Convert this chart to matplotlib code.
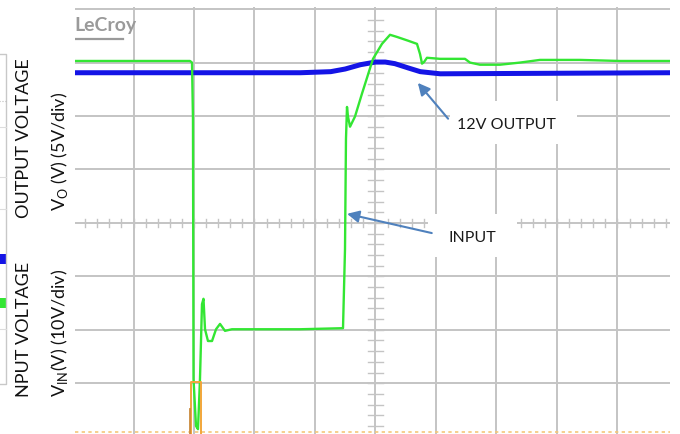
"""Scope capture: 12V output response to an input dropout (LeCroy screen)."""

import matplotlib
matplotlib.use("Agg")
import matplotlib.pyplot as plt
import numpy as np
from matplotlib.patches import Rectangle

plt.rcParams['font.family'] = ['Lato', 'DejaVu Sans']
plt.rcParams['mathtext.fontset'] = 'custom'
plt.rcParams['mathtext.rm'] = 'Lato'

# traces in screen divisions (x: 0..10 time div, y: -4..4 div, 0 = centre)
input_x = [0.03, 1.934, 1.967, 1.983, 1.992, 2.033, 2.066, 2.099, 2.132, 2.157,
           2.182, 2.231, 2.298, 2.364, 2.430, 2.512, 2.628, 3.091, 3.752, 4.463,
           4.496, 4.512, 4.529, 4.545, 4.579, 4.661, 4.777, 4.959, 5.107, 5.240,
           5.355, 5.537, 5.686, 5.736, 5.769, 5.802, 5.851, 6.066, 6.479, 6.562,
           6.727, 7.058, 7.388, 7.719, 8.380, 9.041, 9.87]
input_y = [3.03, 3.03, 3.00, 1.95, -2.92, -3.80, -3.86, -2.92, -1.52, -1.42,
           -1.99, -2.21, -2.21, -1.99, -1.89, -2.02, -1.99, -1.99, -1.99, -1.97,
           -0.49, 1.57, 2.17, 1.99, 1.80, 1.99, 2.42, 3.07, 3.35, 3.52,
           3.48, 3.41, 3.35, 3.16, 2.98, 3.01, 3.09, 3.07, 3.07, 3.00,
           2.96, 2.96, 3.00, 3.05, 3.05, 3.03, 3.03]

output_x = [0.03, 3.76, 4.26, 4.50, 4.75, 5.00, 5.16, 5.32, 5.54, 5.74, 6.07, 9.87]
output_y = [2.81, 2.81, 2.83, 2.88, 2.96, 3.01, 3.01, 2.98, 2.90, 2.83, 2.79, 2.81]

trig_x = [1.950, 1.950, 2.116, 2.116]
trig_y = [-3.96, -2.98, -2.98, -3.96]

GRID = '#c4c4c4'

fig = plt.figure(figsize=(6.8, 4.35), dpi=100)
ax = fig.add_axes([75 / 680, 0.0, 595 / 680, 427 / 435])
ax.set_xlim(0.033, 9.868)
ax.set_ylim(-3.95, 4.04)
ax.axis('off')

# graticule
for gx in range(1, 10):
    ax.axvline(gx, color=GRID, lw=1.4, zorder=1)
for gy in range(-3, 5):
    ax.axhline(gy, color=GRID, lw=1.4, zorder=1)
for t in np.arange(0.2, 10, 0.2):
    ax.plot([t, t], [-0.075, 0.075], color=GRID, lw=1.0, zorder=1)
for t in np.arange(-3.8, 4, 0.2):
    ax.plot([4.88, 5.12], [t, t], color=GRID, lw=1.0, zorder=1)

# ground marker along the bottom
ax.axhline(-3.91, color='#f5c77a', lw=1.2, ls=(0, (2, 2)), zorder=1)

# white label boxes cover the grid
ax.add_patch(Rectangle((6.23, 1.48), 2.10, 0.80, fc='white', ec='none', zorder=2))
ax.add_patch(Rectangle((5.87, -0.64), 1.47, 0.81, fc='white', ec='none', zorder=2))

ax.plot(output_x, output_y, color='#1414e6', lw=3.6, zorder=4,
        solid_capstyle='butt')
ax.plot(input_x, input_y, color='#33e633', lw=1.7, zorder=5)
ax.plot(trig_x, trig_y, color='#f2a63a', lw=1.4, zorder=6)
ax.plot([1.935, 1.935], [-3.96, -3.48], color='#c98a3c', lw=1.3, zorder=6)

arrow = dict(arrowstyle='-|>', color='#4f81bd', lw=1.5, mutation_scale=18,
             shrinkA=0, shrinkB=0)
ax.annotate('', xy=(5.70, 2.62), xytext=(6.20, 1.95), arrowprops=arrow, zorder=6)
ax.annotate('', xy=(4.53, 0.17), xytext=(5.93, -0.19), arrowprops=arrow, zorder=6)
ax.text(7.17, 1.85, '12V OUTPUT', fontsize=11.5, ha='center', va='center',
        color='#1a1a1a', zorder=6)
ax.text(6.60, -0.26, 'INPUT', fontsize=11.5, ha='center', va='center',
        color='#1a1a1a', zorder=6)

# LeCroy logo
ax.text(0.02, 3.72, 'LeCroy', fontsize=14, fontweight='bold', color='#9a9a9a',
        ha='left', va='center', zorder=6)
ax.plot([0.03, 0.82], [3.45, 3.45], color='#9a9a9a', lw=1.6, zorder=6)

# overlay in pixel units for the side labels and the cut-off legend box
ov = fig.add_axes([0, 0, 1, 1])
ov.set_xlim(0, 680)
ov.set_ylim(435, 0)
ov.axis('off')
ov.patch.set_alpha(0)
ov.plot([-5, 6, 6, -5], [55, 55, 385, 385], color='#c8c8c8', lw=1.0)
for yy in (128, 178, 210, 330):
    ov.plot([-5, 6], [yy, yy], color='#dddddd', lw=0.8)
ov.plot([-5, 6], [102, 102], color='#bbbbbb', lw=0.8, ls=':')
ov.add_patch(Rectangle((0, 255), 6, 10, fc='#1414e6', ec='none'))
ov.add_patch(Rectangle((0, 299), 6, 10, fc='#33e633', ec='none'))

ov.text(24, 138, 'OUTPUT VOLTAGE', rotation=90, fontsize=13, ha='center',
        va='center', color='#111111')
ov.text(59, 151, r'V$_{\mathrm{O}}$ (V) (5V/div)', rotation=90, fontsize=13,
        ha='center', va='center', color='#111111')
ov.text(24, 329, 'NPUT VOLTAGE', rotation=90, fontsize=13, ha='center',
        va='center', color='#111111')
ov.text(59, 333, r'V$_{\mathrm{IN}}$(V) (10V/div)', rotation=90, fontsize=13,
        ha='center', va='center', color='#111111')

fig.savefig('out.png', dpi=100)
